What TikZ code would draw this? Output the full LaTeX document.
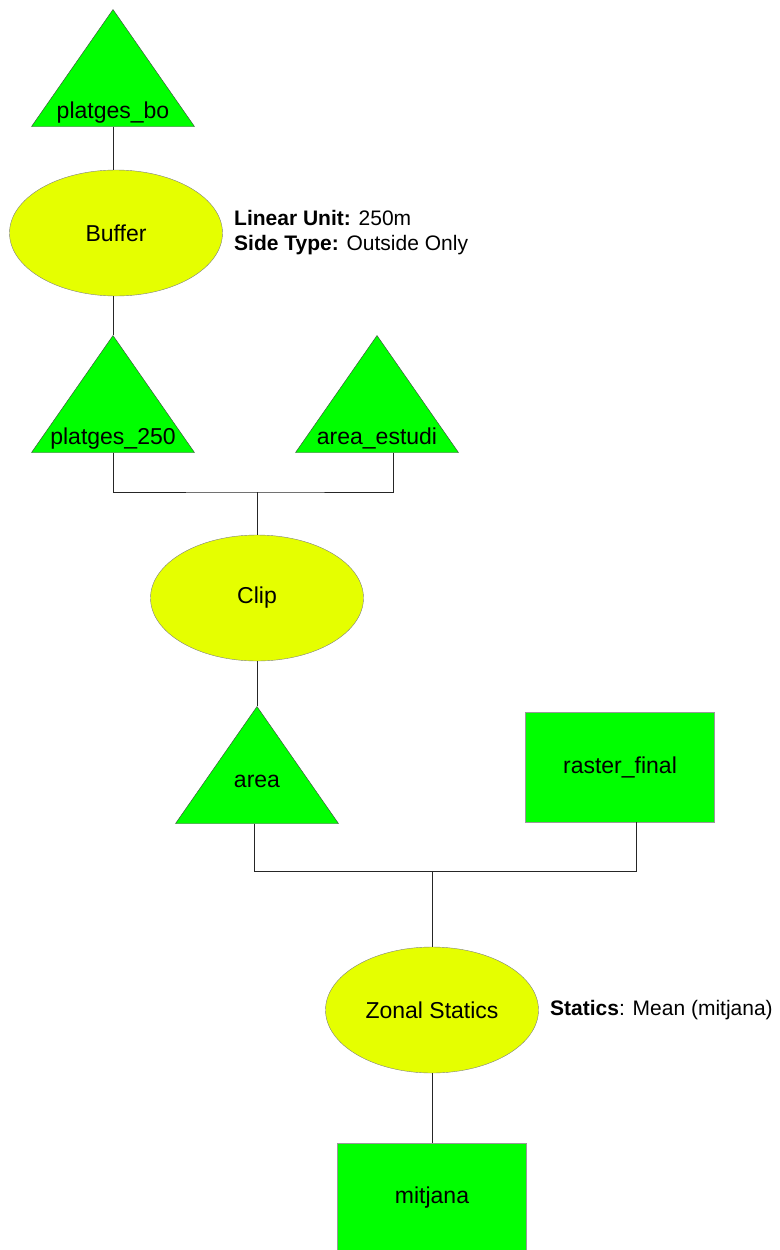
\documentclass[tikz,border=0pt]{standalone}
\usepackage{fontspec}
\setmainfont{Liberation Sans}
\usetikzlibrary{shapes.geometric}
\definecolor{layergreen}{RGB}{0,255,0}
\definecolor{toolyellow}{RGB}{229,255,0}

\begin{document}
\begin{tikzpicture}[x=1pt, y=-1pt, font=\fontsize{23}{27}\selectfont]
    \tikzstyle{layer} = [draw=black!75, fill=layergreen, isosceles triangle, isosceles triangle stretches, shape border rotate=90, minimum width=163pt, minimum height=117pt, inner sep=0pt, anchor=apex]
    \tikzstyle{raster} = [draw=black!40, fill=layergreen, rectangle, minimum width=189pt, minimum height=110pt]
    \tikzstyle{tool} = [draw=black!50, fill=toolyellow, ellipse, minimum width=213pt, minimum height=126pt, inner sep=0pt]
    \tikzstyle{params} = [anchor=west, align=left, font=\fontsize{21}{25}\selectfont]
    \tikzstyle{link} = [draw=black!85, line width=1pt]
    \useasboundingbox (0,0) rectangle (779,1250);

    % Input beaches
    \node [layer, label={[anchor=base, yshift=8pt]south:platges\_bo}] (PlatgesBo) at (113,9) {};

    % Buffer tool
    \node [tool] (Buffer) at (116,233) {Buffer};
    \node [params] (BufferParams) at ([xshift=8pt]Buffer.east) {\textbf{Linear Unit:} 250m\\\textbf{Side Type:} Outside Only};
    \draw [link] (PlatgesBo.south) -- (PlatgesBo.south |- Buffer.north);

    % Buffered beaches and study area
    \node [layer, label={[anchor=base, yshift=8pt]south:platges\_250}] (Platges250) at (113,335) {};
    \draw [link] (Buffer.south -| Platges250.apex) -- (Platges250.apex);
    \node [layer, label={[anchor=base, yshift=8pt]south:area\_estudi}] (AreaEstudi) at (377,335) {};

    % Clip tool
    \node [tool] (Clip) at (257,598) {Clip};
    \coordinate (ClipJoin) at (257,492);
    \draw [link] (Platges250.south) |- (ClipJoin) -| ([xshift=16pt]AreaEstudi.south);
    \draw [link] (ClipJoin) -- (Clip.north);

    % Clipped area
    \node [layer, label={[anchor=base, yshift=36pt]south:area}] (Area) at (257,706) {};
    \draw [link] (Clip.south) -- (Area.apex);

    % Final raster
    \node [raster] (RasterFinal) at (620,767) {raster\_final};

    % Zonal statistics tool
    \node [tool] (Zonal) at (432,1010) {Zonal Statics};
    \node [params] (ZonalParams) at ([xshift=8pt]Zonal.east) {\textbf{Statics}: Mean (mitjana)};
    \coordinate (ZonalJoin) at (432,871);
    \draw [link] ([xshift=-3pt]Area.south) |- (ZonalJoin) -| ([xshift=16pt]RasterFinal.south);
    \draw [link] (ZonalJoin) -- (Zonal.north);

    % Output table
    \node [raster] (Mitjana) at (432,1198) {mitjana};
    \draw [link] (Zonal.south) -- (Mitjana.north);
\end{tikzpicture}
\end{document}
